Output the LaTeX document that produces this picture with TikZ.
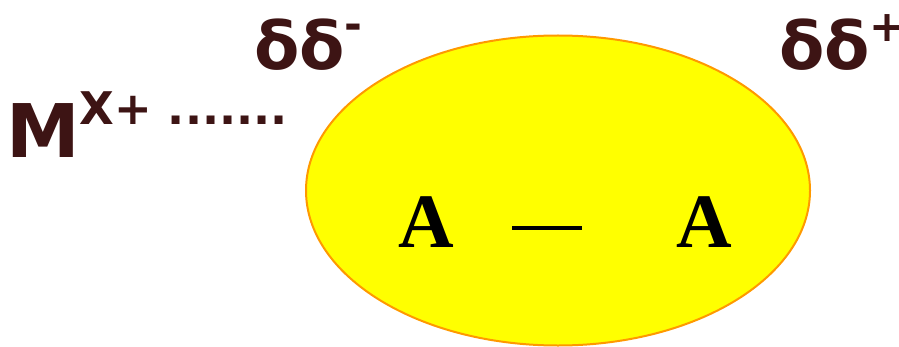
\documentclass[tikz,border=0pt]{standalone}
\usepackage{fontspec}
\usetikzlibrary{shapes.geometric}
\newfontfamily\chemsans{DejaVu Sans}
\newfontfamily\atomserif{Liberation Serif}
\definecolor{ionbrown}{HTML}{3D1414}
\definecolor{cloudedge}{HTML}{FF9900}
\definecolor{cloudfill}{HTML}{FFFF00}

\begin{document}
\begin{tikzpicture}[x=1pt,y=1pt,
        charge/.style={inner sep=0pt, anchor=base west, text=ionbrown, font=\fontsize{74}{74}\selectfont\chemsans\bfseries},
        atom/.style={inner sep=0pt, anchor=base west, font=\fontsize{77}{77}\selectfont\atomserif\bfseries},
        bond/.style={line width=4pt}]
        \useasboundingbox (0,0) rectangle (899,346);
        \node (cloud) [draw=cloudedge, line width=2pt, fill=cloudfill, ellipse, inner sep=0pt, minimum width=504pt, minimum height=310pt] at (558,155.5) {};
        \node (metal) [charge] at (6,189) {M\raisebox{33pt}{\fontsize{45}{45}\selectfont X+ .......}};
        \node (dneg) [charge, font=\fontsize{66}{66}\selectfont\chemsans\bfseries] at (254,276) {δδ\raisebox{30pt}{\fontsize{43}{43}\selectfont -}};
        \node (dpos) [charge, font=\fontsize{66}{66}\selectfont\chemsans\bfseries] at (779,276) {δδ\raisebox{29pt}{\fontsize{43}{43}\selectfont +}};
        \node (leftA) [atom] at (398,99) {A};
        \node (rightA) [atom] at (676,99) {A};
        \draw[bond, shorten <=58pt, shorten >=94pt] ([yshift=19pt]leftA.base east) -- ([yshift=19pt]rightA.base west);
    \end{tikzpicture}
\end{document}
